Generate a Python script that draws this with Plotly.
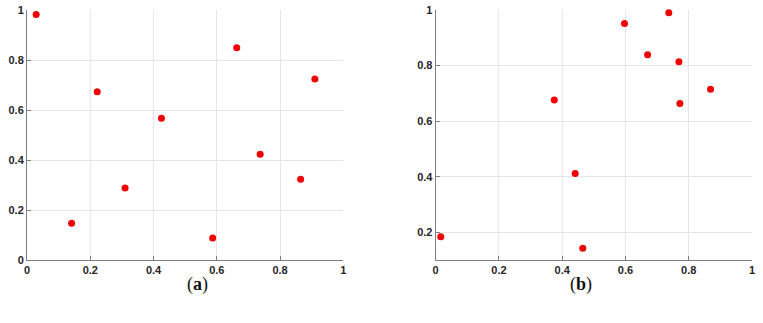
import plotly.graph_objects as go

# Panel (a) data
xa = [0.029, 0.222, 0.425, 0.663, 0.910, 0.141, 0.310, 0.737, 0.865, 0.587]
ya = [0.982, 0.673, 0.567, 0.849, 0.724, 0.147, 0.288, 0.423, 0.323, 0.088]

# Panel (b) data
xb = [0.375, 0.737, 0.597, 0.670, 0.769, 0.869, 0.772, 0.441, 0.016, 0.465]
yb = [0.676, 0.990, 0.951, 0.839, 0.814, 0.715, 0.663, 0.411, 0.184, 0.142]

tick_vals = [0, 0.2, 0.4, 0.6, 0.8, 1]
tick_text = ["0", "0.2", "0.4", "0.6", "0.8", "1"]
panel_labels = ["(<b>a</b>)", "(<b>b</b>)"]

fig = go.Figure()
marker = dict(color="#f00000", size=7)
fig.add_trace(go.Scatter(x=xa, y=ya, mode="markers", marker=marker, xaxis="x", yaxis="y", showlegend=False, cliponaxis=False))
fig.add_trace(go.Scatter(x=xb, y=yb, mode="markers", marker=marker, xaxis="x2", yaxis="y2", showlegend=False, cliponaxis=False))

axis_common = dict(
    showgrid=True, gridcolor="#e6e6e6", gridwidth=1,
    showline=True, linecolor="#808080", linewidth=1,
    ticks="inside", ticklen=4, tickcolor="#808080",
    tickfont=dict(family="Liberation Sans, Arial, sans-serif", size=11, color="#262626", weight="bold"),
    zeroline=False, tickvals=tick_vals, ticktext=tick_text, automargin=False,
)

FW, FH = 763, 323
x_left_a, x_right_a = 26.7, 343.3
x_left_b, x_right_b = 435.7, 752.3
y_top, y_bot = 10.3, 260

L, T = x_left_a, y_top
R = FW - x_right_b
B = FH - y_bot
W = FW - L - R
H = FH - T - B

fig.update_layout(
    width=FW, height=FH,
    margin=dict(l=L, r=R, t=T, b=B, pad=0),
    paper_bgcolor="white", plot_bgcolor="white",
    xaxis=dict(domain=[0, (x_right_a - L) / W], range=[0, 1], anchor="y", **axis_common),
    yaxis=dict(domain=[0, 1], range=[0, 1], anchor="x", **axis_common),
    xaxis2=dict(domain=[(x_left_b - L) / W, 1], range=[0, 1], anchor="y2", **axis_common),
    yaxis2=dict(domain=[0, 1], range=[0.1, 1], anchor="x2", **axis_common),
    annotations=[
        dict(text=panel_labels[0], x=(185 - L) / W, y=(FH - B - 297) / H,
             xref="paper", yref="paper", showarrow=False,
             font=dict(family="Liberation Serif, serif", size=18, color="#111")),
        dict(text=panel_labels[1], x=(594 - L) / W, y=(FH - B - 297) / H,
             xref="paper", yref="paper", showarrow=False,
             font=dict(family="Liberation Serif, serif", size=18, color="#111")),
    ],
)

fig.write_html("out.html", config={"displayModeBar": False},
               post_script="document.body.style.margin='0px';")
